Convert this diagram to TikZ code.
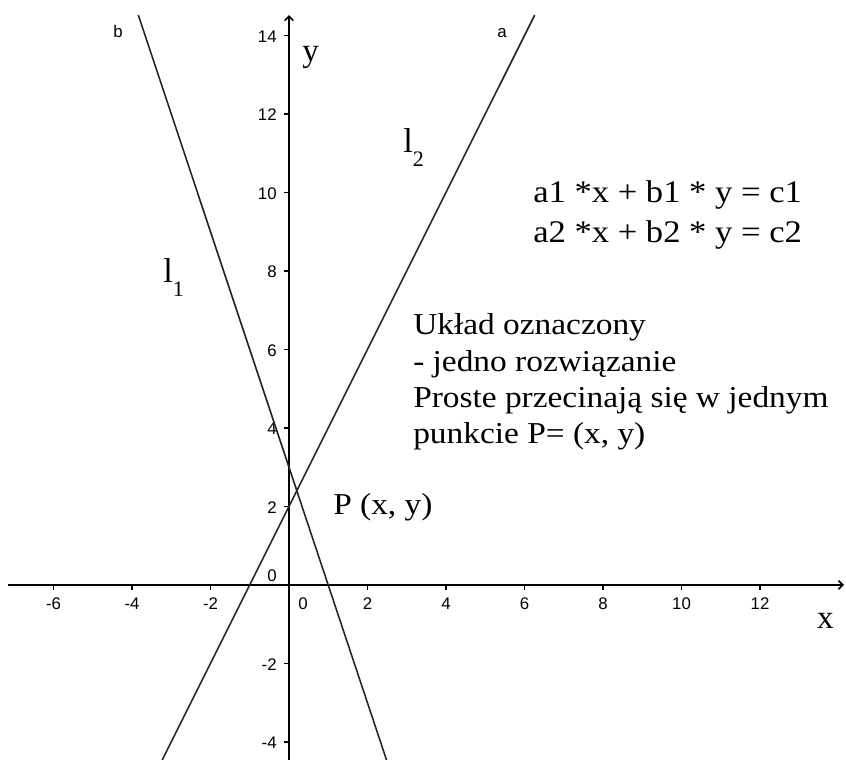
\documentclass[tikz,border=0pt]{standalone}
\usepackage{fontspec}
\newfontfamily\tnr{Liberation Serif}[FakeStretch=1.1]
\newfontfamily\tnrn{Liberation Serif}
\newfontfamily\ari{Liberation Sans}
\usetikzlibrary{arrows.meta}
\begin{document}
\begin{tikzpicture}[x=1cm,y=1cm,
  ax/.style={line width=1.2pt,-{Straight Barb[length=1.1mm,width=2.2mm]}},
  ln/.style={line width=1.15pt,black!85},
  tk/.style={line width=0.9pt},
  tlx/.style={font=\ari\fontsize{12.2}{13}\selectfont,inner sep=0pt,anchor=base},
  tly/.style={font=\ari\fontsize{12.2}{13}\selectfont,inner sep=0pt,anchor=base east},
  txt/.style={font=\tnr\fontsize{22}{26}\selectfont,inner sep=0pt,anchor=base west},
  eqt/.style={font=\tnr\fontsize{22.8}{26}\selectfont,inner sep=0pt,anchor=base west},
  axl/.style={font=\tnrn\fontsize{24}{24}\selectfont,inner sep=0pt,anchor=base west}]
\useasboundingbox (-7.363,-4.459) rectangle (14.191,14.904);
\fill[white] (-7.363,-4.459) rectangle (14.191,14.904);
% axes
\coordinate (xs) at (-7.159,0);
\coordinate (xe) at (14.14,0);
\coordinate (ys) at (0,-4.459);
\coordinate (ye) at (0,14.52);
\draw[ax] (xs) -- (xe);
\draw[ax] (ys) -- (ye);
% ticks and tick labels
\foreach \i in {-6,-4,-2,2,4,6,8,10,12}{
  \draw[tk] (\i,0) -- (\i,-0.13);
  \node[tlx] (xl\i) at (\i,-0.637) {\i};
}
\foreach \i in {-4,-2,2,4,6,8,10,12,14}{
  \draw[tk] (0,\i) -- (-0.13,\i);
  \node[tly] (yl\i) at (-0.306,\i-0.173) {\i};
}
\node[tlx] (xzero) at (0.357,-0.637) {0};
\node[tlx] (yzero) at (-0.433,0.10) {0};
% lines
\coordinate (btop) at (-3.84,14.52);
\coordinate (bbot) at (2.486,-4.459);
\coordinate (atop) at (6.26,14.52);
\coordinate (abot) at (-3.23,-4.459);
\draw[ln] (btop) -- (bbot);
\draw[ln] (atop) -- (abot);
\node[tlx] (la) at (5.427,13.96) {a};
\node[tlx] (lb) at (-4.357,13.96) {b};
% axis labels
\node[axl] (xlab) at (13.45,-1.121) {x};
\node[axl] (ylab) at (0.331,13.325) {y};
% l1, l2
\node[axl] (l1) at (-3.21,7.694) {{\fontsize{25}{25}\selectfont l}\raisebox{-10pt}{\fontsize{16}{16}\selectfont 1}};
\node[axl] (l2) at (2.904,11.007) {{\fontsize{25}{25}\selectfont l}\raisebox{-10pt}{\fontsize{16}{16}\selectfont 2}};
% equations
\node[eqt] (eq1) at (6.217,9.732) {a1 *x + b1 * y = c1};
\node[eqt] (eq2) at (6.217,8.713) {a2 *x + b2 * y = c2};
% description
\node[txt] (t1) at (3.159,6.369) {Układ oznaczony};
\node[txt] (t2) at (3.159,5.445) {- jedno rozwiązanie};
\node[txt] (t3) at (3.159,4.520) {Proste przecinają się w jednym};
\node[txt] (t4) at (3.159,3.592) {punkcie P= (x, y)};
\node[txt] (pp) at (1.121,1.783) {P (x, y)};
\end{tikzpicture}
\end{document}
